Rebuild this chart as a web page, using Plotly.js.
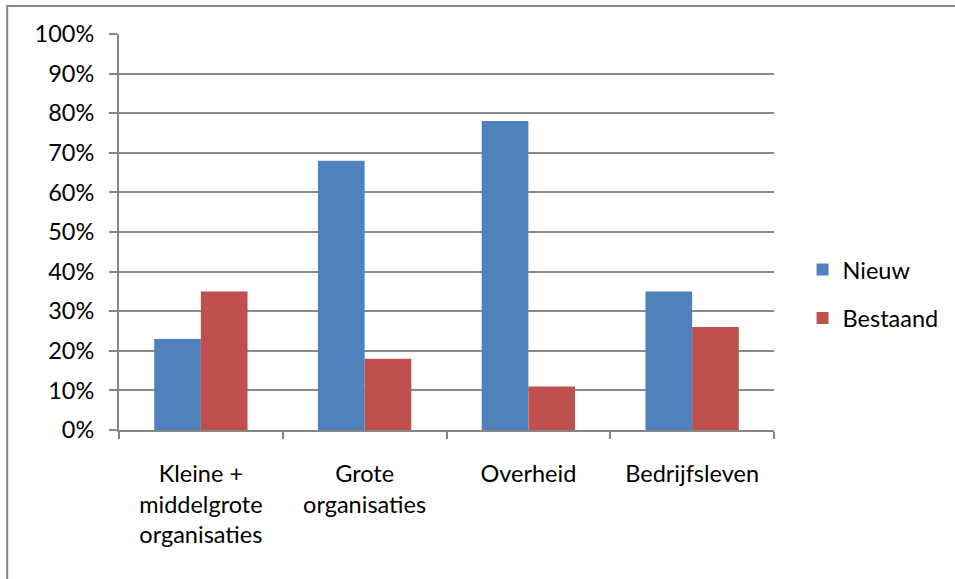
<!DOCTYPE html>
<html>
<head>
<meta charset="utf-8">
<script src="https://cdn.plot.ly/plotly-3.0.1.min.js"></script>
<style>
  html, body { margin: 0; padding: 0; background: #fff; }
  #chart { width: 955px; height: 579px; }
</style>
</head>
<body>
<div id="chart"></div>
<script>
// Share of respondents per sector, split into new and existing
const categories = [
  "Kleine +<br>middelgrote<br>organisaties",
  "Grote<br>organisaties",
  "Overheid",
  "Bedrijfsleven"
];
const nieuw    = [0.23, 0.68, 0.78, 0.35];
const bestaand = [0.35, 0.18, 0.11, 0.26];
const yTicks   = [0, 0.1, 0.2, 0.3, 0.4, 0.5, 0.6, 0.7, 0.8, 0.9, 1.0];

const FONT = "Lato, 'Open Sans', sans-serif";
const GRID = "#8a8a8a";

const traces = [
  {
    type: "bar", name: "Nieuw", x: categories, y: nieuw,
    marker: { color: "#4F81BD", line: { width: 0 } },
    legendgroup: "a", hoverinfo: "none"
  },
  {
    type: "bar", name: "Bestaand", x: categories, y: bestaand,
    marker: { color: "#C0504D", line: { width: 0 } },
    legendgroup: "b", hoverinfo: "none"
  }
];

const layout = {
  width: 955, height: 579,
  margin: { l: 119, r: 180, t: 34, b: 149, pad: 0 },
  paper_bgcolor: "#ffffff", plot_bgcolor: "#ffffff",
  font: { family: FONT, size: 23.5, color: "#000000" },
  barmode: "group",
  bargap: 0.43, bargroupgap: 0,
  showlegend: true,
  legend: {
    x: 1.042, xanchor: "left", y: 0.343, yanchor: "middle",
    font: { family: FONT, size: 23.5, color: "#000000" },
    traceorder: "grouped", tracegroupgap: 15,
    bgcolor: "rgba(0,0,0,0)"
  },
  xaxis: {
    type: "category",
    showline: true, linecolor: "#868686", linewidth: 2,
    ticks: "outside", tickson: "boundaries", ticklen: 7,
    tickcolor: "#868686", tickwidth: 2,
    ticklabelstandoff: 22,
    showgrid: false, zeroline: false, fixedrange: true
  },
  yaxis: {
    range: [0, 1],
    tickvals: yTicks, tickformat: ".0%",
    showline: true, linecolor: "#868686", linewidth: 2,
    ticks: "outside", ticklen: 8, tickcolor: "#868686", tickwidth: 2,
    ticklabelstandoff: 10,
    showgrid: true, gridcolor: GRID, gridwidth: 2,
    zeroline: false, fixedrange: true
  },
  shapes: [
    {
      // outer chart frame (left and top edges)
      type: "path", xref: "paper", yref: "paper",
      path: "M -0.1707,-0.5 L -0.1707,1.0707 L 1.6,1.0707",
      line: { color: "#868686", width: 2 }
    }
  ]
};

Plotly.newPlot("chart", traces, layout, { staticPlot: true, displayModeBar: false });
</script>
</body>
</html>
